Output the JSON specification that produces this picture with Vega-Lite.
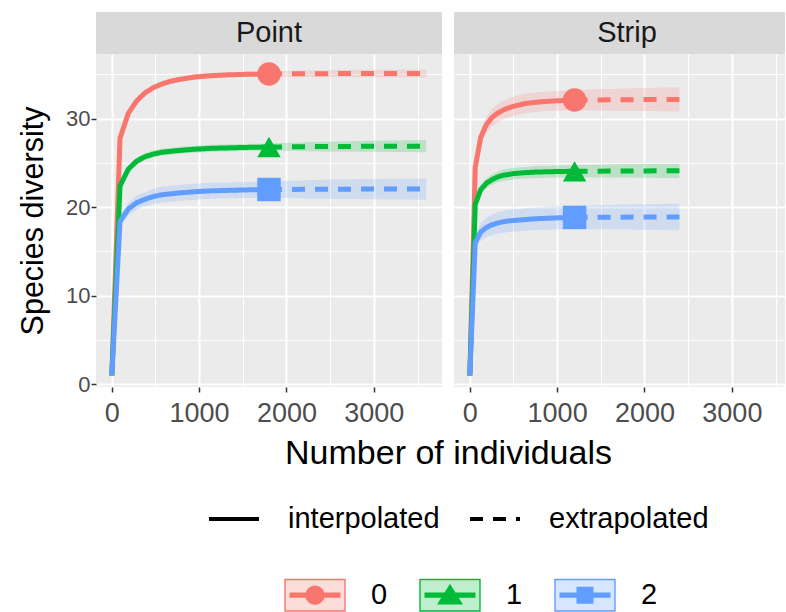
{
  "$schema": "https://vega.github.io/schema/vega-lite/v6.json",
  "padding": {"left": 18, "top": 12, "right": 0, "bottom": 0},
  "autosize": {"type": "pad"},
  "background": "white",
  "datasets": {
    "strips": [{"site": "Point"}, {"site": "Strip"}],
    "observed": [
      {"site": "Point", "order": "0", "m": 1800, "qD": 35.05},
      {"site": "Point", "order": "1", "m": 1800, "qD": 26.8},
      {"site": "Point", "order": "2", "m": 1800, "qD": 22.0},
      {"site": "Strip", "order": "0", "m": 1200, "qD": 32.1},
      {"site": "Strip", "order": "1", "m": 1200, "qD": 24.05},
      {"site": "Strip", "order": "2", "m": 1200, "qD": 18.85}
    ],
    "curves": [
      {"site": "Point", "order": "0", "method": "interpolated", "m": 1, "qD": 1, "lo": 1, "hi": 1},
      {"site": "Point", "order": "0", "method": "interpolated", "m": 95, "qD": 27.8, "lo": 27.5, "hi": 28.1},
      {"site": "Point", "order": "0", "method": "interpolated", "m": 190, "qD": 30.6, "lo": 30.3, "hi": 30.9},
      {"site": "Point", "order": "0", "method": "interpolated", "m": 285, "qD": 32.0, "lo": 31.7, "hi": 32.3},
      {"site": "Point", "order": "0", "method": "interpolated", "m": 380, "qD": 32.9, "lo": 32.6, "hi": 33.2},
      {"site": "Point", "order": "0", "method": "interpolated", "m": 475, "qD": 33.5, "lo": 33.2, "hi": 33.8},
      {"site": "Point", "order": "0", "method": "interpolated", "m": 570, "qD": 33.9, "lo": 33.6, "hi": 34.2},
      {"site": "Point", "order": "0", "method": "interpolated", "m": 665, "qD": 34.2, "lo": 33.9, "hi": 34.5},
      {"site": "Point", "order": "0", "method": "interpolated", "m": 760, "qD": 34.4, "lo": 34.1, "hi": 34.7},
      {"site": "Point", "order": "0", "method": "interpolated", "m": 950, "qD": 34.7, "lo": 34.4, "hi": 35.0},
      {"site": "Point", "order": "0", "method": "interpolated", "m": 1140, "qD": 34.85, "lo": 34.55, "hi": 35.15},
      {"site": "Point", "order": "0", "method": "interpolated", "m": 1330, "qD": 34.95, "lo": 34.65, "hi": 35.25},
      {"site": "Point", "order": "0", "method": "interpolated", "m": 1520, "qD": 35.0, "lo": 34.7, "hi": 35.3},
      {"site": "Point", "order": "0", "method": "interpolated", "m": 1800, "qD": 35.05, "lo": 34.75, "hi": 35.35},
      {"site": "Point", "order": "0", "method": "extrapolated", "m": 1800, "qD": 35.05, "lo": 34.75, "hi": 35.35},
      {"site": "Point", "order": "0", "method": "extrapolated", "m": 2400, "qD": 35.08, "lo": 34.7, "hi": 35.46},
      {"site": "Point", "order": "0", "method": "extrapolated", "m": 3000, "qD": 35.1, "lo": 34.68, "hi": 35.52},
      {"site": "Point", "order": "0", "method": "extrapolated", "m": 3600, "qD": 35.1, "lo": 34.65, "hi": 35.55},
      {"site": "Point", "order": "1", "method": "interpolated", "m": 1, "qD": 1, "lo": 1, "hi": 1},
      {"site": "Point", "order": "1", "method": "interpolated", "m": 95, "qD": 22.4, "lo": 22.0, "hi": 22.8},
      {"site": "Point", "order": "1", "method": "interpolated", "m": 190, "qD": 24.3, "lo": 23.9, "hi": 24.7},
      {"site": "Point", "order": "1", "method": "interpolated", "m": 285, "qD": 25.2, "lo": 24.8, "hi": 25.6},
      {"site": "Point", "order": "1", "method": "interpolated", "m": 380, "qD": 25.7, "lo": 25.3, "hi": 26.1},
      {"site": "Point", "order": "1", "method": "interpolated", "m": 475, "qD": 26.0, "lo": 25.6, "hi": 26.4},
      {"site": "Point", "order": "1", "method": "interpolated", "m": 570, "qD": 26.2, "lo": 25.8, "hi": 26.6},
      {"site": "Point", "order": "1", "method": "interpolated", "m": 760, "qD": 26.4, "lo": 26.0, "hi": 26.8},
      {"site": "Point", "order": "1", "method": "interpolated", "m": 950, "qD": 26.55, "lo": 26.15, "hi": 26.95},
      {"site": "Point", "order": "1", "method": "interpolated", "m": 1140, "qD": 26.65, "lo": 26.25, "hi": 27.05},
      {"site": "Point", "order": "1", "method": "interpolated", "m": 1330, "qD": 26.7, "lo": 26.3, "hi": 27.1},
      {"site": "Point", "order": "1", "method": "interpolated", "m": 1520, "qD": 26.75, "lo": 26.35, "hi": 27.15},
      {"site": "Point", "order": "1", "method": "interpolated", "m": 1800, "qD": 26.8, "lo": 26.4, "hi": 27.2},
      {"site": "Point", "order": "1", "method": "extrapolated", "m": 1800, "qD": 26.8, "lo": 26.4, "hi": 27.2},
      {"site": "Point", "order": "1", "method": "extrapolated", "m": 2400, "qD": 26.85, "lo": 26.3, "hi": 27.4},
      {"site": "Point", "order": "1", "method": "extrapolated", "m": 3000, "qD": 26.88, "lo": 26.25, "hi": 27.5},
      {"site": "Point", "order": "1", "method": "extrapolated", "m": 3600, "qD": 26.9, "lo": 26.2, "hi": 27.6},
      {"site": "Point", "order": "2", "method": "interpolated", "m": 1, "qD": 1, "lo": 1, "hi": 1},
      {"site": "Point", "order": "2", "method": "interpolated", "m": 95, "qD": 18.4, "lo": 17.8, "hi": 19.0},
      {"site": "Point", "order": "2", "method": "interpolated", "m": 190, "qD": 19.8, "lo": 19.1, "hi": 20.5},
      {"site": "Point", "order": "2", "method": "interpolated", "m": 285, "qD": 20.5, "lo": 19.7, "hi": 21.3},
      {"site": "Point", "order": "2", "method": "interpolated", "m": 380, "qD": 20.9, "lo": 20.1, "hi": 21.7},
      {"site": "Point", "order": "2", "method": "interpolated", "m": 475, "qD": 21.2, "lo": 20.35, "hi": 22.05},
      {"site": "Point", "order": "2", "method": "interpolated", "m": 570, "qD": 21.4, "lo": 20.5, "hi": 22.3},
      {"site": "Point", "order": "2", "method": "interpolated", "m": 760, "qD": 21.6, "lo": 20.7, "hi": 22.5},
      {"site": "Point", "order": "2", "method": "interpolated", "m": 950, "qD": 21.75, "lo": 20.85, "hi": 22.65},
      {"site": "Point", "order": "2", "method": "interpolated", "m": 1140, "qD": 21.85, "lo": 20.95, "hi": 22.75},
      {"site": "Point", "order": "2", "method": "interpolated", "m": 1330, "qD": 21.9, "lo": 21.0, "hi": 22.8},
      {"site": "Point", "order": "2", "method": "interpolated", "m": 1520, "qD": 21.95, "lo": 21.05, "hi": 22.85},
      {"site": "Point", "order": "2", "method": "interpolated", "m": 1800, "qD": 22.0, "lo": 21.1, "hi": 22.9},
      {"site": "Point", "order": "2", "method": "extrapolated", "m": 1800, "qD": 22.0, "lo": 21.1, "hi": 22.9},
      {"site": "Point", "order": "2", "method": "extrapolated", "m": 2400, "qD": 22.03, "lo": 20.95, "hi": 23.1},
      {"site": "Point", "order": "2", "method": "extrapolated", "m": 3000, "qD": 22.05, "lo": 20.9, "hi": 23.2},
      {"site": "Point", "order": "2", "method": "extrapolated", "m": 3600, "qD": 22.06, "lo": 20.85, "hi": 23.25},
      {"site": "Strip", "order": "0", "method": "interpolated", "m": 1, "qD": 1, "lo": 1, "hi": 1},
      {"site": "Strip", "order": "0", "method": "interpolated", "m": 63, "qD": 24.5, "lo": 23.9, "hi": 25.1},
      {"site": "Strip", "order": "0", "method": "interpolated", "m": 126, "qD": 27.9, "lo": 27.1, "hi": 28.7},
      {"site": "Strip", "order": "0", "method": "interpolated", "m": 189, "qD": 29.3, "lo": 28.4, "hi": 30.2},
      {"site": "Strip", "order": "0", "method": "interpolated", "m": 252, "qD": 30.1, "lo": 29.15, "hi": 31.05},
      {"site": "Strip", "order": "0", "method": "interpolated", "m": 315, "qD": 30.6, "lo": 29.6, "hi": 31.6},
      {"site": "Strip", "order": "0", "method": "interpolated", "m": 378, "qD": 30.95, "lo": 29.9, "hi": 32.0},
      {"site": "Strip", "order": "0", "method": "interpolated", "m": 441, "qD": 31.2, "lo": 30.15, "hi": 32.25},
      {"site": "Strip", "order": "0", "method": "interpolated", "m": 504, "qD": 31.4, "lo": 30.3, "hi": 32.5},
      {"site": "Strip", "order": "0", "method": "interpolated", "m": 630, "qD": 31.7, "lo": 30.6, "hi": 32.8},
      {"site": "Strip", "order": "0", "method": "interpolated", "m": 756, "qD": 31.85, "lo": 30.75, "hi": 32.95},
      {"site": "Strip", "order": "0", "method": "interpolated", "m": 882, "qD": 31.95, "lo": 30.85, "hi": 33.05},
      {"site": "Strip", "order": "0", "method": "interpolated", "m": 1008, "qD": 32.02, "lo": 30.9, "hi": 33.14},
      {"site": "Strip", "order": "0", "method": "interpolated", "m": 1134, "qD": 32.07, "lo": 30.95, "hi": 33.19},
      {"site": "Strip", "order": "0", "method": "interpolated", "m": 1200, "qD": 32.1, "lo": 30.95, "hi": 33.25},
      {"site": "Strip", "order": "0", "method": "extrapolated", "m": 1200, "qD": 32.1, "lo": 30.95, "hi": 33.25},
      {"site": "Strip", "order": "0", "method": "extrapolated", "m": 1600, "qD": 32.13, "lo": 30.9, "hi": 33.36},
      {"site": "Strip", "order": "0", "method": "extrapolated", "m": 2000, "qD": 32.15, "lo": 30.85, "hi": 33.45},
      {"site": "Strip", "order": "0", "method": "extrapolated", "m": 2400, "qD": 32.17, "lo": 30.8, "hi": 33.54},
      {"site": "Strip", "order": "1", "method": "interpolated", "m": 1, "qD": 1, "lo": 1, "hi": 1},
      {"site": "Strip", "order": "1", "method": "interpolated", "m": 63, "qD": 20.3, "lo": 19.9, "hi": 20.7},
      {"site": "Strip", "order": "1", "method": "interpolated", "m": 126, "qD": 22.0, "lo": 21.5, "hi": 22.5},
      {"site": "Strip", "order": "1", "method": "interpolated", "m": 189, "qD": 22.7, "lo": 22.15, "hi": 23.25},
      {"site": "Strip", "order": "1", "method": "interpolated", "m": 252, "qD": 23.1, "lo": 22.5, "hi": 23.7},
      {"site": "Strip", "order": "1", "method": "interpolated", "m": 315, "qD": 23.4, "lo": 22.8, "hi": 24.0},
      {"site": "Strip", "order": "1", "method": "interpolated", "m": 378, "qD": 23.6, "lo": 22.95, "hi": 24.25},
      {"site": "Strip", "order": "1", "method": "interpolated", "m": 441, "qD": 23.7, "lo": 23.05, "hi": 24.35},
      {"site": "Strip", "order": "1", "method": "interpolated", "m": 504, "qD": 23.8, "lo": 23.15, "hi": 24.45},
      {"site": "Strip", "order": "1", "method": "interpolated", "m": 630, "qD": 23.9, "lo": 23.25, "hi": 24.55},
      {"site": "Strip", "order": "1", "method": "interpolated", "m": 756, "qD": 23.97, "lo": 23.3, "hi": 24.64},
      {"site": "Strip", "order": "1", "method": "interpolated", "m": 882, "qD": 24.0, "lo": 23.33, "hi": 24.67},
      {"site": "Strip", "order": "1", "method": "interpolated", "m": 1008, "qD": 24.03, "lo": 23.35, "hi": 24.71},
      {"site": "Strip", "order": "1", "method": "interpolated", "m": 1134, "qD": 24.05, "lo": 23.37, "hi": 24.73},
      {"site": "Strip", "order": "1", "method": "interpolated", "m": 1200, "qD": 24.05, "lo": 23.37, "hi": 24.73},
      {"site": "Strip", "order": "1", "method": "extrapolated", "m": 1200, "qD": 24.05, "lo": 23.37, "hi": 24.73},
      {"site": "Strip", "order": "1", "method": "extrapolated", "m": 1600, "qD": 24.08, "lo": 23.35, "hi": 24.81},
      {"site": "Strip", "order": "1", "method": "extrapolated", "m": 2000, "qD": 24.1, "lo": 23.33, "hi": 24.87},
      {"site": "Strip", "order": "1", "method": "extrapolated", "m": 2400, "qD": 24.11, "lo": 23.3, "hi": 24.92},
      {"site": "Strip", "order": "2", "method": "interpolated", "m": 1, "qD": 1, "lo": 1, "hi": 1},
      {"site": "Strip", "order": "2", "method": "interpolated", "m": 63, "qD": 16.0, "lo": 15.3, "hi": 16.7},
      {"site": "Strip", "order": "2", "method": "interpolated", "m": 126, "qD": 17.2, "lo": 16.2, "hi": 18.2},
      {"site": "Strip", "order": "2", "method": "interpolated", "m": 189, "qD": 17.7, "lo": 16.6, "hi": 18.8},
      {"site": "Strip", "order": "2", "method": "interpolated", "m": 252, "qD": 18.0, "lo": 16.85, "hi": 19.15},
      {"site": "Strip", "order": "2", "method": "interpolated", "m": 315, "qD": 18.2, "lo": 17.0, "hi": 19.4},
      {"site": "Strip", "order": "2", "method": "interpolated", "m": 378, "qD": 18.35, "lo": 17.1, "hi": 19.6},
      {"site": "Strip", "order": "2", "method": "interpolated", "m": 441, "qD": 18.45, "lo": 17.2, "hi": 19.7},
      {"site": "Strip", "order": "2", "method": "interpolated", "m": 504, "qD": 18.5, "lo": 17.25, "hi": 19.75},
      {"site": "Strip", "order": "2", "method": "interpolated", "m": 630, "qD": 18.6, "lo": 17.33, "hi": 19.87},
      {"site": "Strip", "order": "2", "method": "interpolated", "m": 756, "qD": 18.7, "lo": 17.42, "hi": 19.98},
      {"site": "Strip", "order": "2", "method": "interpolated", "m": 882, "qD": 18.75, "lo": 17.46, "hi": 20.04},
      {"site": "Strip", "order": "2", "method": "interpolated", "m": 1008, "qD": 18.8, "lo": 17.5, "hi": 20.1},
      {"site": "Strip", "order": "2", "method": "interpolated", "m": 1134, "qD": 18.82, "lo": 17.52, "hi": 20.12},
      {"site": "Strip", "order": "2", "method": "interpolated", "m": 1200, "qD": 18.85, "lo": 17.55, "hi": 20.15},
      {"site": "Strip", "order": "2", "method": "extrapolated", "m": 1200, "qD": 18.85, "lo": 17.55, "hi": 20.15},
      {"site": "Strip", "order": "2", "method": "extrapolated", "m": 1600, "qD": 18.87, "lo": 17.5, "hi": 20.24},
      {"site": "Strip", "order": "2", "method": "extrapolated", "m": 2000, "qD": 18.89, "lo": 17.45, "hi": 20.33},
      {"site": "Strip", "order": "2", "method": "extrapolated", "m": 2400, "qD": 18.9, "lo": 17.4, "hi": 20.4}
    ]
  },
  "columns": 2,
  "spacing": {"row": 0, "column": 12},
  "bounds": "flush",
  "align": "each",
  "resolve": {
    "scale": {"color": "shared", "fill": "shared", "strokeDash": "shared"},
    "legend": {"color": "shared", "fill": "independent", "strokeDash": "shared"}
  },
  "concat": [
    {
      "width": 346, "height": 42,
      "data": {"name": "strips"},
      "transform": [{"filter": "datum.site === 'Point'"}],
      "view": {"fill": "#D9D9D9", "stroke": null},
      "mark": {"type": "text", "fontSize": 29, "color": "#1A1A1A"},
      "encoding": {"text": {"field": "site", "type": "nominal"}}
    },
    {
      "width": 331, "height": 42,
      "data": {"name": "strips"},
      "transform": [{"filter": "datum.site === 'Strip'"}],
      "view": {"fill": "#D9D9D9", "stroke": null},
      "mark": {"type": "text", "fontSize": 29, "color": "#1A1A1A", "dx": 7.5},
      "encoding": {"text": {"field": "site", "type": "nominal"}}
    },
    {
      "width": 346, "height": 333,
      "layer": [
        {
          "data": {"name": "curves"},
          "transform": [{"filter": "datum.site === 'Point'"}],
          "mark": {"type": "area", "opacity": 0.2},
          "encoding": {
            "x": {"field": "m", "type": "quantitative", "scale": {"domain": [-180, 3780], "nice": false, "zero": false},
              "axis": {"title": "Number of individuals", "titleX": 352, "titlePadding": 10, "labelPadding": 8,
                "values": [0, 500, 1000, 1500, 2000, 2500, 3000, 3500], "format": "d",
                "labelExpr": "datum.value % 1000 === 0 ? datum.label : ''",
                "gridWidth": {"condition": {"test": "datum.value % 1000 === 0", "value": 2}, "value": 1},
                "tickOpacity": {"condition": {"test": "datum.value % 1000 === 0", "value": 1}, "value": 0}}},
            "y": {"field": "lo", "type": "quantitative", "scale": {"domain": [-0.3, 37.3], "nice": false, "zero": false},
              "axis": {"title": "Species diversity", "titleFontSize": 30.5, "titlePadding": 17, "minExtent": 31, "maxExtent": 31,
                "labelFontSize": 22, "labelPadding": 1,
                "values": [0, 5, 10, 15, 20, 25, 30, 35],
                "labelExpr": "datum.value % 10 === 0 ? datum.label : ''",
                "gridWidth": {"condition": {"test": "datum.value % 10 === 0", "value": 2}, "value": 1},
                "tickOpacity": {"condition": {"test": "datum.value % 10 === 0", "value": 1}, "value": 0}}},
            "y2": {"field": "hi"},
            "fill": {"field": "order", "type": "nominal", "scale": {"domain": ["0", "1", "2"], "range": ["#F8766D", "#00BA38", "#619CFF"]}, "legend": null},
            "detail": {"field": "method"}
          }
        },
        {
          "data": {"name": "curves"},
          "transform": [{"filter": "datum.site === 'Point'"}],
          "mark": {"type": "line", "strokeWidth": 5},
          "encoding": {
            "x": {"field": "m", "type": "quantitative"},
            "y": {"field": "qD", "type": "quantitative"},
            "color": {"field": "order", "type": "nominal", "scale": {"domain": ["0", "1", "2"], "range": ["#F8766D", "#00BA38", "#619CFF"]},
              "legend": {"orient": "none", "legendX": 203, "legendY": 567, "direction": "horizontal", "title": null,
                "symbolSize": 900, "symbolOpacity": 1, "labelFontSize": 29, "labelOffset": 40, "columnPadding": 29, "padding": 0,
                "encode": {"symbols": {"update": {
                  "shape": [
                    {"test": "datum.value === '0'", "value": "M-2,-1.05H2V1.05H-2ZM-1.7,-0.13H1.7M-1.7,-0.065H1.7M-1.7,0H1.7M-1.7,0.065H1.7M-1.7,0.13H1.7M-0.6,0A0.6 0.6 0 1 1 0.6,0A0.6 0.6 0 1 1 -0.6,0ZM-0.53,0A0.53 0.53 0 1 1 0.53,0A0.53 0.53 0 1 1 -0.53,0ZM-0.46,0A0.46 0.46 0 1 1 0.46,0A0.46 0.46 0 1 1 -0.46,0ZM-0.39,0A0.39 0.39 0 1 1 0.39,0A0.39 0.39 0 1 1 -0.39,0ZM-0.32,0A0.32 0.32 0 1 1 0.32,0A0.32 0.32 0 1 1 -0.32,0ZM-0.25,0A0.25 0.25 0 1 1 0.25,0A0.25 0.25 0 1 1 -0.25,0ZM-0.18,0A0.18 0.18 0 1 1 0.18,0A0.18 0.18 0 1 1 -0.18,0ZM-0.11,0A0.11 0.11 0 1 1 0.11,0A0.11 0.11 0 1 1 -0.11,0ZM-0.04,0A0.04 0.04 0 1 1 0.04,0A0.04 0.04 0 1 1 -0.04,0Z"},
                    {"test": "datum.value === '1'", "value": "M-2,-1.05H2V1.05H-2ZM-1.7,-0.13H1.7M-1.7,-0.065H1.7M-1.7,0H1.7M-1.7,0.065H1.7M-1.7,0.13H1.7M0,-0.68L0.78,0.58L-0.78,0.58ZM0,-0.578L0.663,0.493L-0.663,0.493ZM0,-0.476L0.546,0.406L-0.546,0.406ZM0,-0.374L0.429,0.319L-0.429,0.319ZM0,-0.272L0.312,0.232L-0.312,0.232ZM0,-0.17L0.195,0.145L-0.195,0.145ZM0,-0.068L0.078,0.058L-0.078,0.058Z"},
                    {"value": "M-2,-1.05H2V1.05H-2ZM-1.7,-0.13H1.7M-1.7,-0.065H1.7M-1.7,0H1.7M-1.7,0.065H1.7M-1.7,0.13H1.7M-0.52,-0.52H0.52V0.52H-0.52ZM-0.45,-0.45H0.45V0.45H-0.45ZM-0.38,-0.38H0.38V0.38H-0.38ZM-0.31,-0.31H0.31V0.31H-0.31ZM-0.24,-0.24H0.24V0.24H-0.24ZM-0.17,-0.17H0.17V0.17H-0.17ZM-0.1,-0.1H0.1V0.1H-0.1ZM-0.03,-0.03H0.03V0.03H-0.03Z"}],
                  "fill": {"scale": "color", "field": "value"},
                  "stroke": {"scale": "color", "field": "value"},
                  "fillOpacity": {"value": 0.25},
                  "strokeOpacity": {"value": 1},
                  "opacity": {"value": 1},
                  "strokeWidth": {"value": 1.4},
                  "size": {"value": 900}}}}}},
            "strokeDash": {"field": "method", "type": "nominal",
              "scale": {"domain": ["interpolated", "extrapolated"], "range": [[1, 0], [13, 10]]},
              "legend": {"orient": "none", "legendX": 111, "legendY": 480, "direction": "horizontal", "title": null,
                "symbolType": "stroke", "symbolSize": 2500, "symbolStrokeWidth": 4, "symbolStrokeColor": "#000000",
                "labelFontSize": 29, "labelOffset": 27, "columnPadding": 22, "padding": 0,
                "encode": {"symbols": {"update": {"stroke": {"value": "#000000"}, "strokeWidth": {"value": 4}}}}}}
          }
        },
        {
          "data": {"name": "observed"},
          "transform": [{"filter": "datum.site === 'Point'"}],
          "mark": {"type": "point", "filled": true, "opacity": 1, "size": 550},
          "encoding": {
            "x": {"field": "m", "type": "quantitative"},
            "y": {"field": "qD", "type": "quantitative"},
            "color": {"field": "order", "type": "nominal"},
            "shape": {"condition": [{"test": "datum.order === '0'", "value": "circle"}, {"test": "datum.order === '1'", "value": "triangle-up"}], "value": "square"}
          }
        }
      ]
    },
    {
      "width": 331, "height": 333,
      "layer": [
        {
          "data": {"name": "curves"},
          "transform": [{"filter": "datum.site === 'Strip'"}],
          "mark": {"type": "area", "opacity": 0.2},
          "encoding": {
            "x": {"field": "m", "type": "quantitative", "scale": {"domain": [-180, 3608], "nice": false, "zero": false},
              "axis": {"title": null, "labelPadding": 8,
                "values": [0, 500, 1000, 1500, 2000, 2500, 3000, 3500], "format": "d",
                "labelExpr": "datum.value % 1000 === 0 ? datum.label : ''",
                "gridWidth": {"condition": {"test": "datum.value % 1000 === 0", "value": 2}, "value": 1},
                "tickOpacity": {"condition": {"test": "datum.value % 1000 === 0", "value": 1}, "value": 0}}},
            "y": {"field": "lo", "type": "quantitative", "scale": {"domain": [-0.3, 37.3], "nice": false, "zero": false},
              "axis": {"title": null, "labels": false, "ticks": false,
                "values": [0, 5, 10, 15, 20, 25, 30, 35],
                "gridWidth": {"condition": {"test": "datum.value % 10 === 0", "value": 2}, "value": 1}}},
            "y2": {"field": "hi"},
            "fill": {"field": "order", "type": "nominal", "scale": {"domain": ["0", "1", "2"], "range": ["#F8766D", "#00BA38", "#619CFF"]}, "legend": null},
            "detail": {"field": "method"}
          }
        },
        {
          "data": {"name": "curves"},
          "transform": [{"filter": "datum.site === 'Strip'"}],
          "mark": {"type": "line", "strokeWidth": 5},
          "encoding": {
            "x": {"field": "m", "type": "quantitative"},
            "y": {"field": "qD", "type": "quantitative"},
            "color": {"field": "order", "type": "nominal", "scale": {"domain": ["0", "1", "2"], "range": ["#F8766D", "#00BA38", "#619CFF"]},
              "legend": {"orient": "none", "legendX": 203, "legendY": 567, "direction": "horizontal", "title": null,
                "symbolSize": 900, "symbolOpacity": 1, "labelFontSize": 29, "labelOffset": 40, "columnPadding": 29, "padding": 0,
                "encode": {"symbols": {"update": {
                  "shape": [
                    {"test": "datum.value === '0'", "value": "M-2,-1.05H2V1.05H-2ZM-1.7,-0.13H1.7M-1.7,-0.065H1.7M-1.7,0H1.7M-1.7,0.065H1.7M-1.7,0.13H1.7M-0.6,0A0.6 0.6 0 1 1 0.6,0A0.6 0.6 0 1 1 -0.6,0ZM-0.53,0A0.53 0.53 0 1 1 0.53,0A0.53 0.53 0 1 1 -0.53,0ZM-0.46,0A0.46 0.46 0 1 1 0.46,0A0.46 0.46 0 1 1 -0.46,0ZM-0.39,0A0.39 0.39 0 1 1 0.39,0A0.39 0.39 0 1 1 -0.39,0ZM-0.32,0A0.32 0.32 0 1 1 0.32,0A0.32 0.32 0 1 1 -0.32,0ZM-0.25,0A0.25 0.25 0 1 1 0.25,0A0.25 0.25 0 1 1 -0.25,0ZM-0.18,0A0.18 0.18 0 1 1 0.18,0A0.18 0.18 0 1 1 -0.18,0ZM-0.11,0A0.11 0.11 0 1 1 0.11,0A0.11 0.11 0 1 1 -0.11,0ZM-0.04,0A0.04 0.04 0 1 1 0.04,0A0.04 0.04 0 1 1 -0.04,0Z"},
                    {"test": "datum.value === '1'", "value": "M-2,-1.05H2V1.05H-2ZM-1.7,-0.13H1.7M-1.7,-0.065H1.7M-1.7,0H1.7M-1.7,0.065H1.7M-1.7,0.13H1.7M0,-0.68L0.78,0.58L-0.78,0.58ZM0,-0.578L0.663,0.493L-0.663,0.493ZM0,-0.476L0.546,0.406L-0.546,0.406ZM0,-0.374L0.429,0.319L-0.429,0.319ZM0,-0.272L0.312,0.232L-0.312,0.232ZM0,-0.17L0.195,0.145L-0.195,0.145ZM0,-0.068L0.078,0.058L-0.078,0.058Z"},
                    {"value": "M-2,-1.05H2V1.05H-2ZM-1.7,-0.13H1.7M-1.7,-0.065H1.7M-1.7,0H1.7M-1.7,0.065H1.7M-1.7,0.13H1.7M-0.52,-0.52H0.52V0.52H-0.52ZM-0.45,-0.45H0.45V0.45H-0.45ZM-0.38,-0.38H0.38V0.38H-0.38ZM-0.31,-0.31H0.31V0.31H-0.31ZM-0.24,-0.24H0.24V0.24H-0.24ZM-0.17,-0.17H0.17V0.17H-0.17ZM-0.1,-0.1H0.1V0.1H-0.1ZM-0.03,-0.03H0.03V0.03H-0.03Z"}],
                  "fill": {"scale": "color", "field": "value"},
                  "stroke": {"scale": "color", "field": "value"},
                  "fillOpacity": {"value": 0.25},
                  "strokeOpacity": {"value": 1},
                  "opacity": {"value": 1},
                  "strokeWidth": {"value": 1.4},
                  "size": {"value": 900}}}}}},
            "strokeDash": {"field": "method", "type": "nominal",
              "scale": {"domain": ["interpolated", "extrapolated"], "range": [[1, 0], [13, 10]]},
              "legend": {"orient": "none", "legendX": 111, "legendY": 480, "direction": "horizontal", "title": null,
                "symbolType": "stroke", "symbolSize": 2500, "symbolStrokeWidth": 4, "symbolStrokeColor": "#000000",
                "labelFontSize": 29, "labelOffset": 27, "columnPadding": 22, "padding": 0,
                "encode": {"symbols": {"update": {"stroke": {"value": "#000000"}, "strokeWidth": {"value": 4}}}}}}
          }
        },
        {
          "data": {"name": "observed"},
          "transform": [{"filter": "datum.site === 'Strip'"}],
          "mark": {"type": "point", "filled": true, "opacity": 1, "size": 550},
          "encoding": {
            "x": {"field": "m", "type": "quantitative"},
            "y": {"field": "qD", "type": "quantitative"},
            "color": {"field": "order", "type": "nominal"},
            "shape": {"condition": [{"test": "datum.order === '0'", "value": "circle"}, {"test": "datum.order === '1'", "value": "triangle-up"}], "value": "square"}
          }
        }
      ]
    }
  ],
  "config": {
    "font": "Liberation Sans",
    "view": {"fill": "#EBEBEB", "stroke": null},
    "axis": {"domain": false, "grid": true, "gridColor": "#FFFFFF", "tickColor": "#333333", "tickSize": 5, "tickWidth": 1.5,
      "labelColor": "#4D4D4D", "labelFontSize": 27, "labelPadding": 4,
      "titleColor": "#000000", "titleFontSize": 34, "titleFontWeight": "normal"},
    "legend": {"labelColor": "#000000", "padding": 0}
  }
}
